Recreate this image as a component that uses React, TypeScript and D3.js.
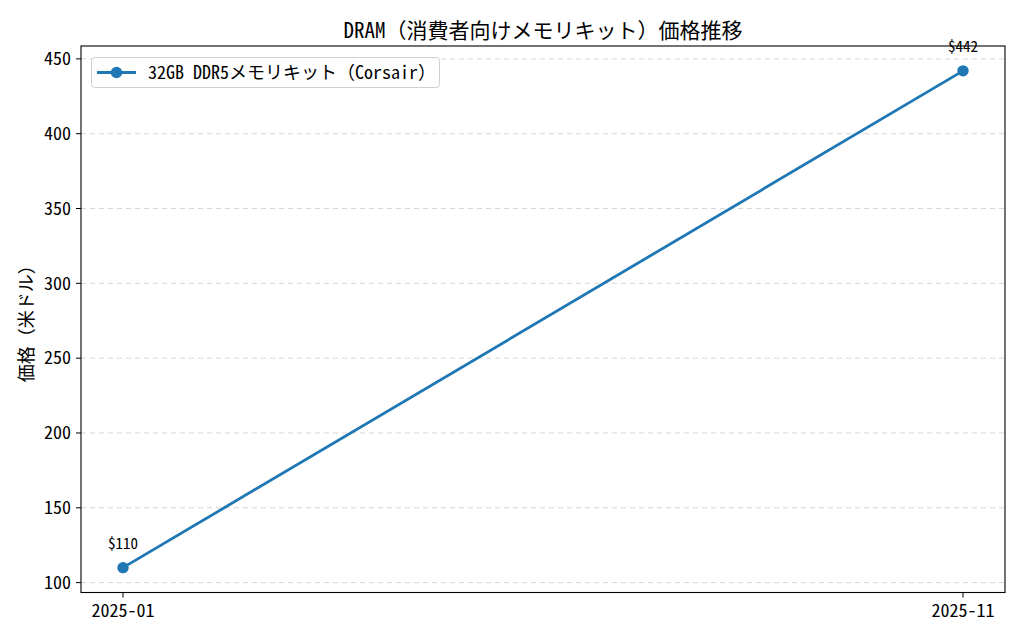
import React from "react";
import * as d3 from "d3";

const months = ["2025-01", "2025-11"];
const prices = [110, 442];
const yTicks = [100, 150, 200, 250, 300, 350, 400, 450];
const seriesName = "32GB DDR5メモリキット（Corsair）";
const titleText = "DRAM（消費者向けメモリキット）価格推移";
const yLabel = "価格（米ドル）";

const W = 1024, H = 640;
const M = { left: 81, right: 1005, top: 46, bottom: 592.5 };
const FONT = "'Noto Sans Mono CJK JP', 'Noto Sans CJK JP', 'DejaVu Sans Mono', monospace";
const BLUE = "#1f77b4";

export default function App() {
  const parse = d3.timeParse("%Y-%m");
  const dates = months.map((m) => parse(m) as Date);
  const t0 = dates[0].getTime(), t1 = dates[dates.length - 1].getTime();
  const dx = (t1 - t0) * 0.05;
  const x = d3.scaleTime().domain([new Date(t0 - dx), new Date(t1 + dx)]).range([M.left, M.right]);
  const ymin = d3.min(prices)!, ymax = d3.max(prices)!;
  const dy = (ymax - ymin) * 0.05;
  const y = d3.scaleLinear().domain([ymin - dy, ymax + dy]).range([M.bottom, M.top]);
  const line = d3.line<number>().x((_, i) => x(dates[i])).y((d) => y(d));

  return (
    <svg width={W} height={H} style={{ display: "block", position: "absolute", left: 0, top: 0 }} fontFamily={FONT}>
      <rect width={W} height={H} fill="#fff" />
      <text x={(M.left + M.right) / 2} y={37.5} textAnchor="middle" fontSize={21} fill="#000">{titleText}</text>
      {yTicks.map((t) => (
        <g key={t}>
          <line x1={M.left} x2={M.right} y1={y(t)} y2={y(t)} stroke="#b0b0b0" strokeOpacity={0.5} strokeDasharray="5,4" strokeWidth={1} />
          <line x1={M.left - 5} x2={M.left} y1={y(t)} y2={y(t)} stroke="#000" strokeWidth={1} />
          <text x={M.left - 10} y={y(t)} dy="0.35em" textAnchor="end" fontSize={18} fill="#000">{t}</text>
        </g>
      ))}
      {dates.map((d, i) => (
        <g key={i}>
          <line x1={x(d)} x2={x(d)} y1={M.bottom} y2={M.bottom + 5} stroke="#000" strokeWidth={1} />
          <text x={x(d)} y={M.bottom + 24} textAnchor="middle" fontSize={18} fill="#000">{months[i]}</text>
        </g>
      ))}
      <text transform={`translate(33,${(M.top + M.bottom) / 2}) rotate(-90)`} textAnchor="middle" fontSize={18} fill="#000">{yLabel}</text>
      <path d={line(prices) || ""} fill="none" stroke={BLUE} strokeWidth={2.8} />
      {prices.map((p, i) => (
        <g key={i}>
          <circle cx={x(dates[i])} cy={y(p)} r={5.7} fill={BLUE} />
          <text x={x(dates[i])} y={y(p) - 18.5} textAnchor="middle" fontSize={15} fill="#000">{"$" + p}</text>
        </g>
      ))}
      <rect x={M.left} y={M.top} width={M.right - M.left} height={M.bottom - M.top} fill="none" stroke="#000" strokeWidth={1.1} />
      <g>
        <rect x={91.5} y={57.5} width={348} height={30} rx={3} fill="#fff" fillOpacity={0.8} stroke="#d0d0d0" />
        <line x1={97} x2={136} y1={72.5} y2={72.5} stroke={BLUE} strokeWidth={2.8} />
        <circle cx={116.5} cy={72.5} r={5.7} fill={BLUE} />
        <text x={148} y={72.5} dy="0.35em" fontSize={18} fill="#000">{seriesName}</text>
      </g>
    </svg>
  );
}
